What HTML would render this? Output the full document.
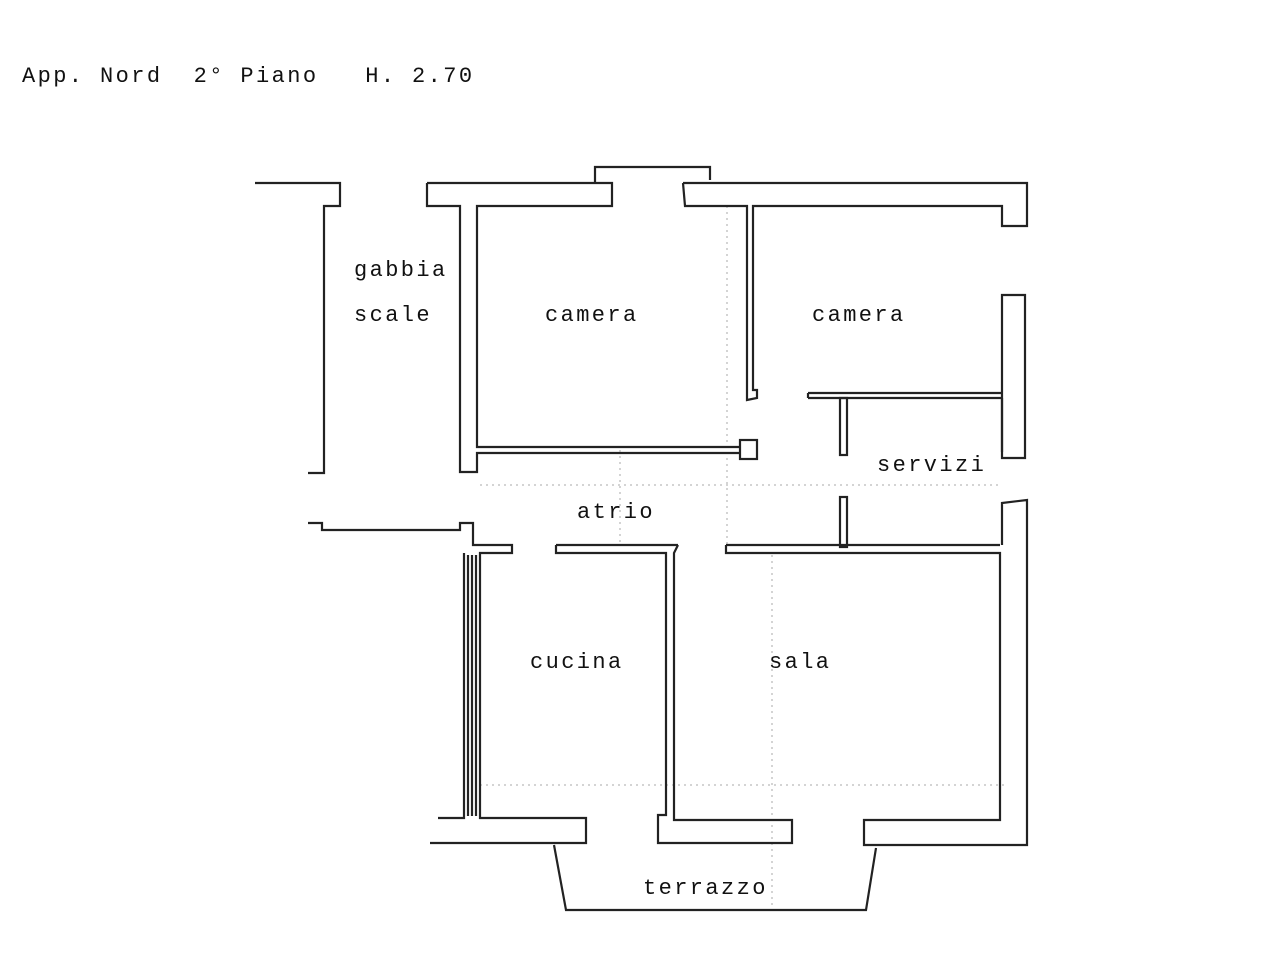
<!DOCTYPE html>
<html><head><meta charset="utf-8"><style>
html,body{margin:0;padding:0;background:#fff;}
svg{display:block;}
text{font-family:"Liberation Mono",monospace;font-size:22px;letter-spacing:2.4px;fill:#111;white-space:pre;}
</style></head><body>
<svg width="1280" height="972" viewBox="0 0 1280 972" xmlns="http://www.w3.org/2000/svg" xml:space="preserve">
<text x="22" y="82" xml:space="preserve">App. Nord  2° Piano   H. 2.70</text>
<g fill="none" stroke="#aaa" stroke-width="1" stroke-dasharray="2,4">
<line x1="727" y1="206" x2="727" y2="545"/>
<line x1="480" y1="485" x2="998" y2="485"/>
<line x1="772" y1="555" x2="772" y2="910"/>
<line x1="480" y1="785" x2="1008" y2="785"/>
<line x1="620" y1="450" x2="620" y2="545"/>
</g>
<g fill="none" stroke="#222" stroke-width="2.2">
<polyline points="255,183 340,183 340,206 324,206 324,473 308,473"/>
<polyline points="427,183 612,183 612,206 477,206 477,447 740,447"/>
<polyline points="427,183 427,206 460,206 460,472 477,472 477,453 740,453"/>
<polyline points="595,183 595,167 710,167 710,180"/>
<polyline points="683,183 1027,183 1027,226 1002,226 1002,206 753,206 753,390 757,390 757,398 747,400 747,206 685,206 683,183"/>
<rect x="740" y="440" width="17" height="19"/>
<polyline points="1002,302 1002,295 1025,295 1025,458 1002,458 1002,398"/>
<line x1="1002" y1="302" x2="1002" y2="452"/>
<polyline points="808,393 1002,393"/>
<polyline points="808,398 1002,398"/>
<line x1="808" y1="393" x2="808" y2="398"/>
<rect x="840" y="398" width="7" height="57"/>
<polyline points="308,523 322,523 322,530 460,530 460,523 473,523 473,545 512,545 512,553 480,553 480,818 586,818 586,843 430,843"/>
<polyline points="464,553 464,818 438,818"/>
<line x1="468" y1="555" x2="468" y2="816"/>
<line x1="472" y1="555" x2="472" y2="816"/>
<line x1="476" y1="555" x2="476" y2="816"/>
<polyline points="556,545 678,545"/>
<polyline points="556,545 556,553 666,553 666,815 658,815 658,843 792,843 792,820 674,820 674,553 678,545"/>
<polyline points="726,545 1000,545"/>
<polyline points="726,545 726,553 1000,553 1000,820 864,820 864,845 1027,845 1027,500 1002,503 1002,545"/>
<rect x="840" y="497" width="7" height="50"/>
<polyline points="554,845 566,910 866,910 876,848"/>
</g>
<text x="354" y="276">gabbia</text>
<text x="354" y="321">scale</text>
<text x="545" y="321">camera</text>
<text x="812" y="321">camera</text>
<text x="877" y="471">servizi</text>
<text x="577" y="518">atrio</text>
<text x="530" y="668">cucina</text>
<text x="769" y="668">sala</text>
<text x="643" y="894">terrazzo</text>
</svg>
</body></html>
